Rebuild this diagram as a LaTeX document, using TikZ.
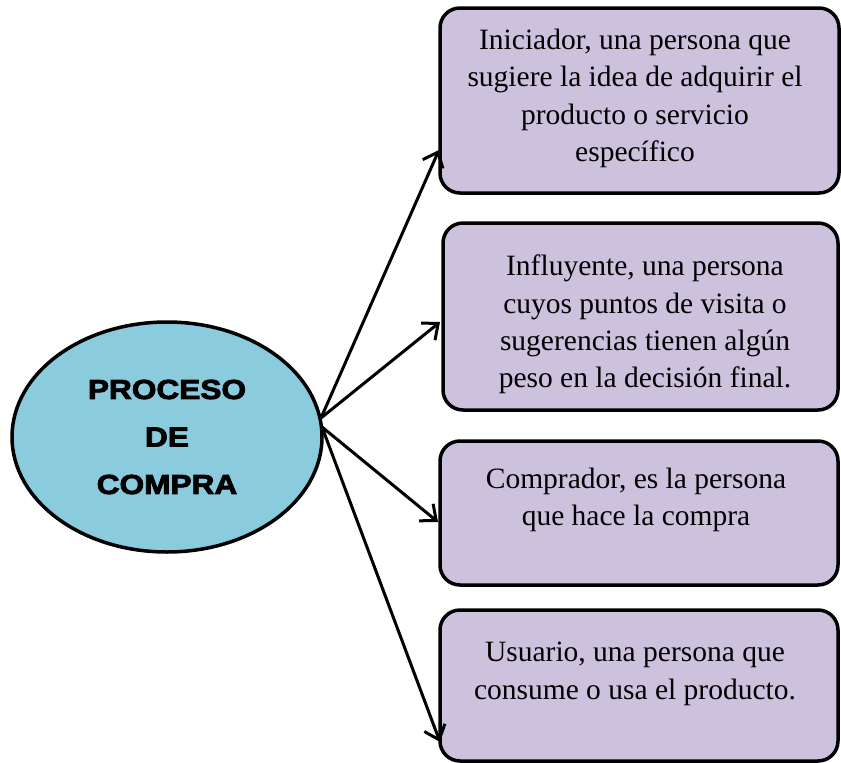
\documentclass[tikz,border=0pt]{standalone}
\usepackage{fontspec}
\setmainfont{Liberation Serif}
\newfontfamily\elfont{Liberation Sans}[UprightFeatures={FakeBold=3,FakeStretch=1.15},BoldFeatures={FakeBold=3,FakeStretch=1.15}]
\usetikzlibrary{shapes.geometric,arrows.meta}
\definecolor{elblue}{RGB}{138,203,221}
\definecolor{boxlav}{RGB}{204,194,222}
\begin{document}
\begin{tikzpicture}[x=1pt,y=-1pt,
  boxstyle/.style={draw=black,fill=boxlav,line width=3.5pt,rounded corners=20pt,inner sep=0pt,outer sep=0pt},
  txtstyle/.style={anchor=north,inner sep=0pt,align=center,font=\fontsize{29.5}{37.3}\selectfont},
  ellstyle/.style={ellipse,draw=black,fill=elblue,line width=3.5pt,minimum width=310pt,minimum height=230pt,inner sep=0pt,align=center,font=\elfont\bfseries\fontsize{27.5}{47.5}\selectfont},
  arr/.style={line width=3pt,-{Straight Barb[length=13pt,width=22pt,line width=3pt]}}]
\useasboundingbox (0,0) rectangle (841,763);
\fill[white] (0,0) rectangle (841,763);

\node[ellstyle] (e) at (167,437) {PROCESO\\DE\\COMPRA};

\node[boxstyle,minimum width=399pt,minimum height=185pt] (b1) at (639.5,100.5) {};
\node[boxstyle,minimum width=395pt,minimum height=187pt] (b2) at (640.5,316.5) {};
\node[boxstyle,minimum width=398pt,minimum height=144pt] (b3) at (639,513) {};
\node[boxstyle,minimum width=398pt,minimum height=151pt] (b4) at (639,685.5) {};

\node[txtstyle] (t1) at (635,29) {Iniciador, una persona que\\sugiere la idea de adquirir el\\producto o servicio\\específico};
\node[txtstyle] (t2) at (645,255) {Influyente, una persona\\cuyos puntos de visita o\\sugerencias tienen algún\\peso en la decisión final.};
\node[txtstyle] (t3) at (636,468) {Comprador, es la persona\\que hace la compra};
\node[txtstyle] (t4) at (635,642) {Usuario, una persona que\\consume o usa el producto.};

\coordinate (oup) at (321,418);
\coordinate (odn) at (322,427);
\coordinate (a1) at (439,150);
\coordinate (a2) at (440,322);
\coordinate (a3) at (438,522);
\coordinate (a4) at (440,742);

\draw[arr] (oup) -- (a1);
\draw[arr] (oup) -- (a2);
\draw[arr] (odn) -- (a3);
\draw[arr] (odn) -- (a4);
\end{tikzpicture}
\end{document}
